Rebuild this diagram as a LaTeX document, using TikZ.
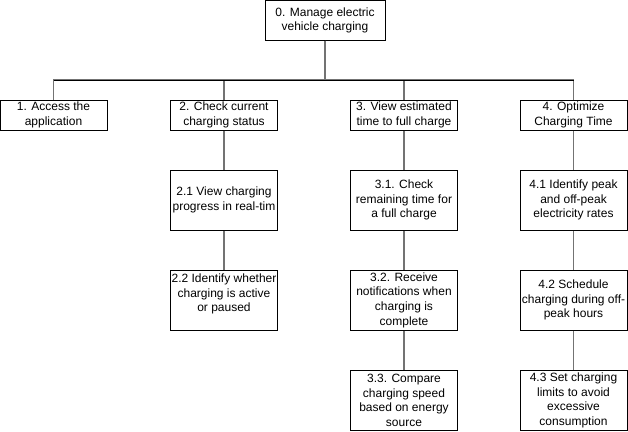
\documentclass[tikz,border=0pt]{standalone}
\usepackage{fontspec}
\setmainfont{Liberation Sans}
\begin{document}
\begin{tikzpicture}[x=1pt,y=-1pt,
  box/.style={draw=black,line width=1pt,fill=white,inner sep=0pt,align=center,
    minimum width=107pt,font=\fontsize{12}{14.7}\selectfont},
  lone/.style={box,minimum height=30pt},
  ltwo/.style={box,minimum height=60pt},
  edge/.style={draw=black!55,line width=1.1pt},
  barline/.style={draw=black,line width=1pt}]
\useasboundingbox (0,0) rectangle (628,431);
\fill[white] (0,0) rectangle (628,431);
\node[box,minimum width=120pt,minimum height=39.5pt] (root) at (325,20.25) {0. Manage electric\\vehicle charging};
\node[lone] (c1) at (53.5,115) {1. Access the\\application};
\node[lone] (c2) at (224,115) {2. Check current\\charging status};
\node[lone] (c3) at (404,115) {3. View estimated\\time to full charge};
\node[lone] (c4) at (573.5,115) {4. Optimize\\Charging Time};
\node[ltwo] (c21) at (224,200) {2.1 View charging\\progress in real-tim};
\node[ltwo] (c22) at (224,300) {2.2 Identify whether\\charging is active\\or paused\\\mbox{}};
\node[ltwo] (c31) at (404,200) {3.1. Check\\remaining time for\\a full charge};
\node[ltwo] (c32) at (404,300) {3.2. Receive\\notifications when\\charging is\\complete};
\node[ltwo,minimum height=59.5pt] (c33) at (404,400.25) {3.3. Compare\\charging speed\\based on energy\\source};
\node[ltwo] (c41) at (573.5,200) {4.1 Identify peak\\and off-peak\\electricity rates};
\node[ltwo] (c42) at (573.5,300) {4.2 Schedule\\charging during off-\\peak hours};
\node[ltwo,minimum height=59.5pt] (c43) at (573.5,400.25) {4.3 Set charging\\limits to avoid\\excessive\\consumption};
\coordinate (bar) at (325,80);
\foreach \c in {c1,c2,c3,c4}{
  \draw[edge] (root.south) -- (bar) -| (\c.north);
}
\draw[barline] (c1.north |- bar) -- (c4.north |- bar);
\draw[edge] (c2.south) -- (c21.north);
\draw[edge] (c21.south) -- (c22.north);
\draw[edge] (c3.south) -- (c31.north);
\draw[edge] (c31.south) -- (c32.north);
\draw[edge] (c32.south) -- (c33.north);
\draw[edge] (c4.south) -- (c41.north);
\draw[edge] (c41.south) -- (c42.north);
\draw[edge] (c42.south) -- (c43.north);
\end{tikzpicture}
\end{document}
